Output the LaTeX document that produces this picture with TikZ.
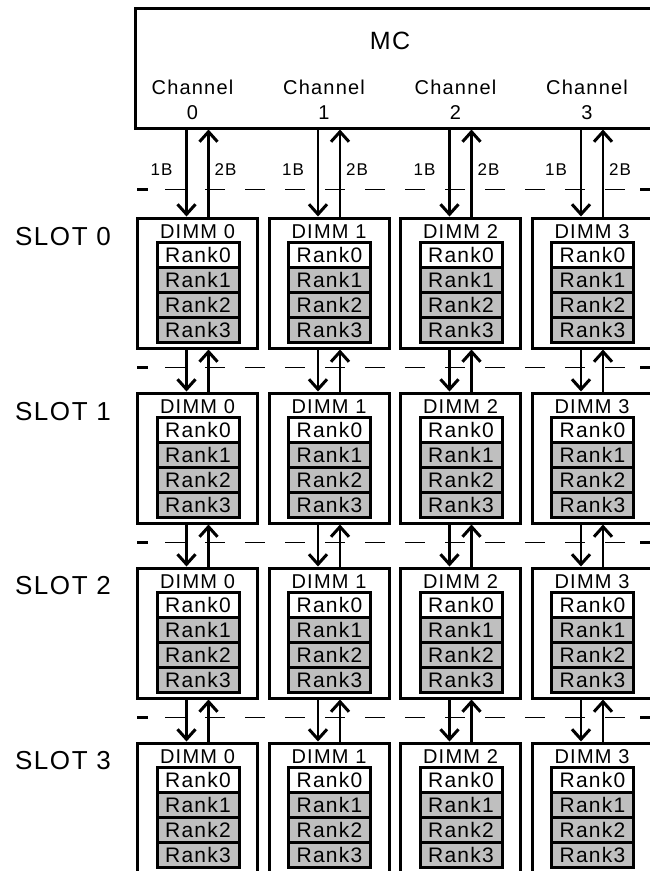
\documentclass[tikz,border=0pt]{standalone}
\usepackage{fontspec}
\setmainfont{Liberation Sans}[LetterSpace=6]
\usetikzlibrary{arrows.meta}

\tikzset{
  dimmbox/.style={draw, line width=3pt, minimum width=120pt, minimum height=130pt, inner sep=0pt},
  rankcell/.style={draw, line width=3pt, minimum width=82pt, minimum height=25pt, inner sep=0pt,
    font=\fontsize{21}{21}\selectfont},
  bus/.style={line width=2.8pt, -{Straight Barb[length=10pt,width=18pt,line width=3pt]}},
  seprule/.style={line width=0.9pt, dash pattern=on 20pt off 20pt},
}

\begin{document}
\begin{tikzpicture}[x=1pt,y=-1pt]
  \useasboundingbox (0,0) rectangle (649,871);
  %% The memory controller
  \node[draw, line width=3pt, minimum width=530pt, minimum height=120pt] (mc) at (400,68) {};
  \node[font=\fontsize{25}{25}\selectfont] (mclabel) at (390,41) {MC};
  %% Dashed separators
  \foreach \y in {189,367,542,717} {
    \draw[seprule] (165,\y) -- (625,\y);
    \draw[line width=3pt] (137,\y) -- (148,\y)
                          (640,\y) -- (655,\y);
  }
  %% Slots and DIMMs
  \foreach \s in {0,...,3} {
    \node[font=\fontsize{26}{26}\selectfont] (slot\s) at (63,{237+174.5*\s}) {SLOT \s};
    \foreach \c in {0,...,3} {
      \node[dimmbox] (d\s\c) at ({197.5+131.5*\c},{283+175*\s}) {};
      \node[font=\fontsize{20}{20}\selectfont] (dl\s\c) at ([yshift=-15pt]d\s\c.north) {DIMM \c};
      \foreach \r in {0,...,3} {
        \ifnum\r=0 \def\rfill{white}\else \def\rfill{black!25}\fi
        \node[rankcell, fill=\rfill] (r\s\c\r) at ({198+131.5*\c},{255+175*\s+25*\r}) {Rank\r};
      }
    }
  }
  %% Channels and the links from MC to slot 0
  \foreach \c in {0,...,3} {
    \node[align=center, font=\fontsize{20}{25}\selectfont] (ch\c) at ({192.5+131.5*\c},100) {Channel\\\c};
    \node[font=\fontsize{17}{17}\selectfont] (oneb\c) at ({161.5+131.5*\c},170) {1B};
    \node[font=\fontsize{17}{17}\selectfont] (twob\c) at ({225.5+131.5*\c},170) {2B};
    \draw[bus] ([xshift=-11pt]d0\c.north |- mc.south) -- ([xshift=-11pt]d0\c.north);
    \draw[bus] ([xshift=11pt]d0\c.north) -- ([xshift=11pt]d0\c.north |- mc.south);
  }
  %% Links between slots
  \foreach \s [count=\n] in {0,1,2} {
    \foreach \c in {0,...,3} {
      \draw[bus] ([xshift=-11pt]d\s\c.south) -- ([xshift=-11pt]d\n\c.north);
      \draw[bus] ([xshift=11pt]d\n\c.north) -- ([xshift=11pt]d\s\c.south);
    }
  }
\end{tikzpicture}
\end{document}
